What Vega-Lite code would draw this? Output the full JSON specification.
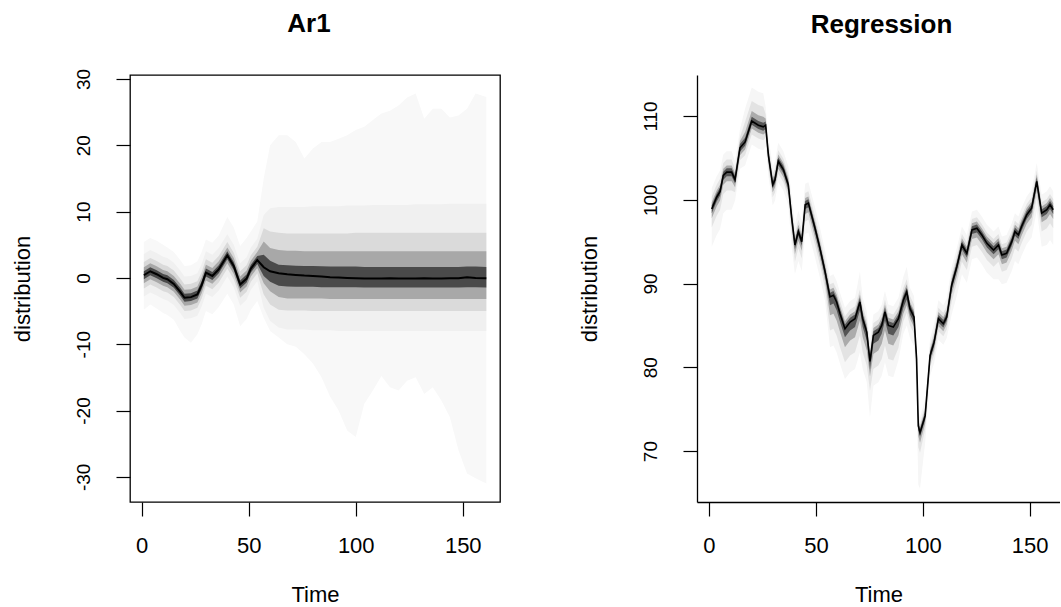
{
"$schema":"https://vega.github.io/schema/vega-lite/v6.json",
"background":"white",
"padding":{"left":10,"top":10,"right":0,"bottom":0},
"bounds":"flush",
"spacing":197,
"config":{
 "font":"Liberation Sans",
 "axis":{"domain":false,"grid":false,"tickColor":"black","tickSize":14,"tickWidth":1.2,"labelFont":"Liberation Sans","labelColor":"black","titleFont":"Liberation Sans","titleFontSize":22,"titleFontWeight":"normal","titleColor":"black","labelFlush":false,"labelOverlap":false,"labelExpr":"replace(datum.label, '\u2212', '-')"},
 "axisX":{"labelFontSize":22,"labelBaseline":"alphabetic","labelPadding":36,"titleBaseline":"alphabetic","titleY":99},
 "axisY":{"labelFontSize":19,"labelAngle":-90,"labelAlign":"center","labelBaseline":"alphabetic","labelPadding":27,"titleAngle":-90,"titleBaseline":"alphabetic","titleX":-101},
 "title":{"font":"Liberation Sans","fontSize":26,"fontWeight":"bold","color":"black","baseline":"alphabetic","offset":37,"frame":"group","anchor":"middle"}
},
"datasets":{
"ar1":[
{"t":1,"m":0.4,"l1":-4.8,"h1":5.4,"l2":-2.8,"h2":3.6,"l3":-1.6,"h3":2.4,"l4":-0.8,"h4":1.6,"l5":-0.2,"h5":1.0},
{"t":4,"m":1.0,"l1":-4.0,"h1":6.0,"l2":-2.2,"h2":4.2,"l3":-1.0,"h3":3.0,"l4":-0.2,"h4":2.2,"l5":0.4,"h5":1.6},
{"t":7,"m":0.55,"l1":-4.6,"h1":5.6,"l2":-2.65,"h2":3.75,"l3":-1.45,"h3":2.55,"l4":-0.65,"h4":1.75,"l5":-0.05,"h5":1.15},
{"t":10,"m":0.0,"l1":-5.3,"h1":5.0,"l2":-3.2,"h2":3.2,"l3":-2.0,"h3":2.0,"l4":-1.2,"h4":1.2,"l5":-0.6,"h5":0.6},
{"t":12,"m":-0.2,"l1":-5.6,"h1":4.6,"l2":-3.4,"h2":3.0,"l3":-2.2,"h3":1.8,"l4":-1.4,"h4":1.0,"l5":-0.8,"h5":0.4},
{"t":15,"m":-0.9,"l1":-6.3,"h1":3.9,"l2":-4.1,"h2":2.3,"l3":-2.9,"h3":1.1,"l4":-2.1,"h4":0.3,"l5":-1.5,"h5":-0.3},
{"t":18,"m":-2.1,"l1":-8.0,"h1":2.7,"l2":-5.3,"h2":1.1,"l3":-4.1,"h3":-0.1,"l4":-3.3,"h4":-0.9,"l5":-2.7,"h5":-1.5},
{"t":20,"m":-3.0,"l1":-9.0,"h1":1.8,"l2":-6.2,"h2":0.2,"l3":-5.0,"h3":-1.0,"l4":-4.2,"h4":-1.8,"l5":-3.6,"h5":-2.4},
{"t":23,"m":-2.9,"l1":-9.8,"h1":1.9,"l2":-6.1,"h2":0.3,"l3":-4.9,"h3":-0.9,"l4":-4.1,"h4":-1.7,"l5":-3.5,"h5":-2.3},
{"t":26,"m":-2.5,"l1":-8.5,"h1":2.5,"l2":-5.7,"h2":0.7,"l3":-4.5,"h3":-0.5,"l4":-3.7,"h4":-1.3,"l5":-3.1,"h5":-1.9},
{"t":28,"m":-1.1,"l1":-7.0,"h1":3.9,"l2":-4.3,"h2":2.1,"l3":-3.1,"h3":0.9,"l4":-2.3,"h4":0.1,"l5":-1.7,"h5":-0.5},
{"t":30,"m":0.8,"l1":-5.0,"h1":5.8,"l2":-2.4,"h2":4.0,"l3":-1.2,"h3":2.8,"l4":-0.4,"h4":2.0,"l5":0.2,"h5":1.4},
{"t":33,"m":0.3,"l1":-5.5,"h1":5.3,"l2":-2.9,"h2":3.5,"l3":-1.7,"h3":2.3,"l4":-0.9,"h4":1.5,"l5":-0.3,"h5":0.9},
{"t":36,"m":1.3,"l1":-4.4,"h1":6.4,"l2":-1.9,"h2":4.5,"l3":-0.7,"h3":3.3,"l4":0.1,"h4":2.5,"l5":0.7,"h5":1.9},
{"t":40,"m":3.4,"l1":-2.4,"h1":9.2,"l2":0.2,"h2":6.6,"l3":1.4,"h3":5.4,"l4":2.2,"h4":4.6,"l5":2.8,"h5":4.0},
{"t":43,"m":1.8,"l1":-4.0,"h1":7.6,"l2":-1.4,"h2":5.0,"l3":-0.2,"h3":3.8,"l4":0.6,"h4":3.0,"l5":1.2,"h5":2.4},
{"t":46,"m":-1.0,"l1":-7.3,"h1":4.8,"l2":-4.2,"h2":2.2,"l3":-3.0,"h3":1.0,"l4":-2.2,"h4":0.2,"l5":-1.6,"h5":-0.4},
{"t":49,"m":-0.1,"l1":-6.2,"h1":6.0,"l2":-3.3,"h2":3.1,"l3":-2.1,"h3":1.9,"l4":-1.3,"h4":1.1,"l5":-0.7,"h5":0.5},
{"t":51,"m":1.4,"l1":-4.8,"h1":7.0,"l2":-1.8,"h2":4.6,"l3":-0.6,"h3":3.4,"l4":0.2,"h4":2.6,"l5":0.8,"h5":2.0},
{"t":54,"m":2.7,"l1":-3.5,"h1":8.5,"l2":-0.5,"h2":5.9,"l3":0.7,"h3":4.7,"l4":1.5,"h4":3.9,"l5":2.1,"h5":3.3},
{"t":57,"m":1.6,"l1":-6.0,"h1":15.0,"l2":-4.5,"h2":9.5,"l3":-2.5,"h3":7.5,"l4":-0.8,"h4":5.5,"l5":0.3,"h5":3.5},
{"t":60,"m":1.0,"l1":-8.0,"h1":20.0,"l2":-6.5,"h2":10.5,"l3":-4.0,"h3":7.0,"l4":-2.0,"h4":4.5,"l5":-0.6,"h5":2.6},
{"t":64,"m":0.7,"l1":-9.0,"h1":21.5,"l2":-7.5,"h2":10.7,"l3":-4.8,"h3":6.8,"l4":-2.9,"h4":4.2,"l5":-1.2,"h5":2.0},
{"t":68,"m":0.55,"l1":-10.0,"h1":21.5,"l2":-7.8,"h2":10.7,"l3":-4.9,"h3":6.7,"l4":-3.1,"h4":4.1,"l5":-1.3,"h5":1.9},
{"t":72,"m":0.45,"l1":-10.4,"h1":20.5,"l2":-7.8,"h2":10.7,"l3":-4.9,"h3":6.7,"l4":-3.1,"h4":4.1,"l5":-1.35,"h5":1.85},
{"t":76,"m":0.35,"l1":-11.5,"h1":18.0,"l2":-7.8,"h2":10.7,"l3":-4.9,"h3":6.7,"l4":-3.1,"h4":4.0,"l5":-1.35,"h5":1.8},
{"t":80,"m":0.3,"l1":-12.9,"h1":19.5,"l2":-7.9,"h2":10.8,"l3":-5.0,"h3":6.7,"l4":-3.1,"h4":4.0,"l5":-1.35,"h5":1.8},
{"t":84,"m":0.2,"l1":-15.0,"h1":20.5,"l2":-7.9,"h2":10.8,"l3":-5.0,"h3":6.7,"l4":-3.1,"h4":4.0,"l5":-1.4,"h5":1.75},
{"t":88,"m":0.1,"l1":-17.9,"h1":20.5,"l2":-7.9,"h2":10.8,"l3":-5.0,"h3":6.7,"l4":-3.2,"h4":4.0,"l5":-1.4,"h5":1.7},
{"t":92,"m":0.05,"l1":-20.0,"h1":21.0,"l2":-8.0,"h2":10.8,"l3":-5.0,"h3":6.7,"l4":-3.2,"h4":4.0,"l5":-1.4,"h5":1.7},
{"t":96,"m":0.0,"l1":-23.0,"h1":21.5,"l2":-8.0,"h2":10.9,"l3":-5.0,"h3":6.7,"l4":-3.2,"h4":4.0,"l5":-1.4,"h5":1.7},
{"t":100,"m":-0.05,"l1":-24.0,"h1":22.3,"l2":-8.0,"h2":10.9,"l3":-5.0,"h3":6.8,"l4":-3.2,"h4":4.0,"l5":-1.4,"h5":1.7},
{"t":104,"m":-0.1,"l1":-19.0,"h1":22.8,"l2":-8.0,"h2":10.9,"l3":-5.0,"h3":6.8,"l4":-3.2,"h4":4.0,"l5":-1.45,"h5":1.65},
{"t":108,"m":-0.1,"l1":-17.0,"h1":23.8,"l2":-8.0,"h2":11.0,"l3":-5.0,"h3":6.8,"l4":-3.2,"h4":4.0,"l5":-1.45,"h5":1.65},
{"t":112,"m":-0.1,"l1":-14.8,"h1":24.8,"l2":-8.0,"h2":11.0,"l3":-5.0,"h3":6.8,"l4":-3.2,"h4":4.0,"l5":-1.45,"h5":1.65},
{"t":116,"m":-0.05,"l1":-16.5,"h1":25.2,"l2":-8.0,"h2":11.0,"l3":-5.0,"h3":6.8,"l4":-3.2,"h4":4.0,"l5":-1.45,"h5":1.65},
{"t":120,"m":-0.1,"l1":-17.0,"h1":26.0,"l2":-8.0,"h2":11.0,"l3":-5.0,"h3":6.8,"l4":-3.2,"h4":4.0,"l5":-1.45,"h5":1.65},
{"t":124,"m":-0.1,"l1":-15.5,"h1":27.2,"l2":-8.0,"h2":11.0,"l3":-5.0,"h3":6.8,"l4":-3.2,"h4":4.0,"l5":-1.45,"h5":1.65},
{"t":128,"m":-0.1,"l1":-15.0,"h1":27.8,"l2":-8.0,"h2":11.1,"l3":-5.0,"h3":6.8,"l4":-3.2,"h4":4.0,"l5":-1.45,"h5":1.65},
{"t":132,"m":-0.05,"l1":-17.5,"h1":24.0,"l2":-8.0,"h2":11.1,"l3":-5.0,"h3":6.8,"l4":-3.2,"h4":4.0,"l5":-1.45,"h5":1.65},
{"t":136,"m":-0.1,"l1":-16.5,"h1":25.5,"l2":-8.0,"h2":11.1,"l3":-5.0,"h3":6.8,"l4":-3.2,"h4":4.0,"l5":-1.45,"h5":1.65},
{"t":140,"m":-0.1,"l1":-18.5,"h1":25.5,"l2":-8.0,"h2":11.1,"l3":-5.0,"h3":6.8,"l4":-3.2,"h4":4.0,"l5":-1.45,"h5":1.65},
{"t":144,"m":-0.05,"l1":-21.0,"h1":24.2,"l2":-8.0,"h2":11.2,"l3":-5.0,"h3":6.8,"l4":-3.2,"h4":4.0,"l5":-1.45,"h5":1.65},
{"t":148,"m":-0.05,"l1":-26.0,"h1":24.5,"l2":-8.0,"h2":11.2,"l3":-5.0,"h3":6.8,"l4":-3.2,"h4":4.0,"l5":-1.45,"h5":1.65},
{"t":152,"m":0.1,"l1":-29.5,"h1":25.5,"l2":-8.0,"h2":11.2,"l3":-5.0,"h3":6.8,"l4":-3.2,"h4":4.0,"l5":-1.4,"h5":1.7},
{"t":156,"m":0.0,"l1":-30.2,"h1":27.8,"l2":-8.0,"h2":11.2,"l3":-5.0,"h3":6.8,"l4":-3.2,"h4":4.0,"l5":-1.4,"h5":1.7},
{"t":161,"m":-0.05,"l1":-31.0,"h1":27.3,"l2":-8.0,"h2":11.2,"l3":-5.0,"h3":6.8,"l4":-3.2,"h4":4.0,"l5":-1.45,"h5":1.65}
],
"reg":[
{"t":1.3,"m":98.9,"l1":94.4,"h1":101.4,"l2":96.7,"h2":100.4,"l3":97.8,"h3":99.7,"l4":98.4,"h4":99.35},
{"t":3.6,"m":100.3,"l1":95.8,"h1":102.8,"l2":98.1,"h2":101.8,"l3":99.2,"h3":101.1,"l4":99.8,"h4":100.75},
{"t":5.2,"m":101.0,"l1":96.5,"h1":103.5,"l2":98.8,"h2":102.5,"l3":99.9,"h3":101.8,"l4":100.5,"h4":101.45},
{"t":6.7,"m":102.9,"l1":98.4,"h1":105.4,"l2":100.7,"h2":104.4,"l3":101.8,"h3":103.7,"l4":102.4,"h4":103.35},
{"t":8.3,"m":103.3,"l1":98.8,"h1":105.8,"l2":101.1,"h2":104.8,"l3":102.2,"h3":104.1,"l4":102.8,"h4":103.75},
{"t":10.6,"m":103.3,"l1":98.8,"h1":105.8,"l2":101.1,"h2":104.8,"l3":102.2,"h3":104.1,"l4":102.8,"h4":103.75},
{"t":12.2,"m":102.4,"l1":99.9,"h1":104.6,"l2":100.9,"h2":103.7,"l3":101.5,"h3":103.2,"l4":101.95,"h4":102.85},
{"t":14.5,"m":106.2,"l1":103.7,"h1":108.4,"l2":104.7,"h2":107.5,"l3":105.3,"h3":107.0,"l4":105.75,"h4":106.65},
{"t":16.9,"m":106.9,"l1":104.1,"h1":110.9,"l2":105.3,"h2":109.3,"l3":106.0,"h3":108.1,"l4":106.45,"h4":107.4},
{"t":20,"m":109.4,"l1":106.6,"h1":113.4,"l2":107.8,"h2":111.8,"l3":108.5,"h3":110.6,"l4":108.95,"h4":109.9},
{"t":23.1,"m":108.9,"l1":106.1,"h1":112.9,"l2":107.3,"h2":111.3,"l3":108.0,"h3":110.1,"l4":108.45,"h4":109.4},
{"t":25.4,"m":108.7,"l1":105.9,"h1":112.7,"l2":107.1,"h2":111.1,"l3":107.8,"h3":109.9,"l4":108.25,"h4":109.2},
{"t":26.5,"m":108.9,"l1":106.4,"h1":111.1,"l2":107.4,"h2":110.2,"l3":108.0,"h3":109.7,"l4":108.45,"h4":109.35},
{"t":27.8,"m":105.3,"l1":102.8,"h1":107.5,"l2":103.8,"h2":106.6,"l3":104.4,"h3":106.1,"l4":104.85,"h4":105.75},
{"t":29.8,"m":101.8,"l1":99.3,"h1":104.0,"l2":100.3,"h2":103.1,"l3":100.9,"h3":102.6,"l4":101.35,"h4":102.25},
{"t":30.9,"m":102.4,"l1":99.9,"h1":104.6,"l2":100.9,"h2":103.7,"l3":101.5,"h3":103.2,"l4":101.95,"h4":102.85},
{"t":32.4,"m":104.6,"l1":102.1,"h1":106.8,"l2":103.1,"h2":105.9,"l3":103.7,"h3":105.4,"l4":104.15,"h4":105.05},
{"t":34.8,"m":103.6,"l1":101.1,"h1":105.8,"l2":102.1,"h2":104.9,"l3":102.7,"h3":104.4,"l4":103.15,"h4":104.05},
{"t":37.1,"m":101.8,"l1":99.3,"h1":104.0,"l2":100.3,"h2":103.1,"l3":100.9,"h3":102.6,"l4":101.35,"h4":102.25},
{"t":38.7,"m":97.8,"l1":94.3,"h1":100.3,"l2":95.8,"h2":99.2,"l3":96.7,"h3":98.6,"l4":97.3,"h4":98.25},
{"t":40.2,"m":94.6,"l1":91.1,"h1":97.1,"l2":92.6,"h2":96.0,"l3":93.5,"h3":95.4,"l4":94.1,"h4":95.05},
{"t":41.8,"m":96.2,"l1":92.7,"h1":98.7,"l2":94.2,"h2":97.6,"l3":95.1,"h3":97.0,"l4":95.7,"h4":96.65},
{"t":43.4,"m":95.0,"l1":91.5,"h1":97.5,"l2":93.0,"h2":96.4,"l3":93.9,"h3":95.8,"l4":94.5,"h4":95.45},
{"t":45,"m":99.4,"l1":95.9,"h1":101.9,"l2":97.4,"h2":100.8,"l3":98.3,"h3":100.2,"l4":98.9,"h4":99.85},
{"t":46.5,"m":99.6,"l1":96.1,"h1":102.1,"l2":97.6,"h2":101.0,"l3":98.5,"h3":100.4,"l4":99.1,"h4":100.05},
{"t":49.6,"m":96.6,"l1":93.1,"h1":99.1,"l2":94.6,"h2":98.0,"l3":95.5,"h3":97.4,"l4":96.1,"h4":97.05},
{"t":51.9,"m":94.2,"l1":90.7,"h1":96.7,"l2":92.2,"h2":95.6,"l3":93.1,"h3":95.0,"l4":93.7,"h4":94.65},
{"t":54.3,"m":91.4,"l1":87.9,"h1":93.9,"l2":89.4,"h2":92.8,"l3":90.3,"h3":92.2,"l4":90.9,"h4":91.85},
{"t":56.6,"m":88.4,"l1":82.4,"h1":90.9,"l2":84.4,"h2":89.9,"l3":86.2,"h3":89.3,"l4":87.4,"h4":88.9},
{"t":58.2,"m":88.6,"l1":82.6,"h1":91.1,"l2":84.6,"h2":90.1,"l3":86.4,"h3":89.5,"l4":87.6,"h4":89.1},
{"t":59.7,"m":87.8,"l1":81.8,"h1":90.3,"l2":83.8,"h2":89.3,"l3":85.6,"h3":88.7,"l4":86.8,"h4":88.3},
{"t":61.3,"m":86.4,"l1":80.4,"h1":88.9,"l2":82.4,"h2":87.9,"l3":84.2,"h3":87.3,"l4":85.4,"h4":86.9},
{"t":63.6,"m":84.6,"l1":78.6,"h1":87.1,"l2":80.6,"h2":86.1,"l3":82.4,"h3":85.5,"l4":83.6,"h4":85.1},
{"t":66,"m":85.4,"l1":79.4,"h1":87.9,"l2":81.4,"h2":86.9,"l3":83.2,"h3":86.3,"l4":84.4,"h4":85.9},
{"t":68.3,"m":85.8,"l1":79.8,"h1":88.3,"l2":81.8,"h2":87.3,"l3":83.6,"h3":86.7,"l4":84.8,"h4":86.3},
{"t":70.6,"m":87.8,"l1":81.8,"h1":91.4,"l2":83.8,"h2":89.3,"l3":85.6,"h3":88.7,"l4":86.8,"h4":88.3},
{"t":71.9,"m":85.8,"l1":79.8,"h1":88.3,"l2":81.8,"h2":87.3,"l3":83.6,"h3":86.7,"l4":84.8,"h4":86.3},
{"t":73.8,"m":84.2,"l1":78.2,"h1":86.7,"l2":80.2,"h2":85.7,"l3":82.0,"h3":85.1,"l4":83.2,"h4":84.7},
{"t":75.3,"m":80.7,"l1":74.0,"h1":83.2,"l2":77.2,"h2":82.2,"l3":78.9,"h3":81.6,"l4":79.7,"h4":81.2},
{"t":76.9,"m":83.8,"l1":77.8,"h1":86.3,"l2":79.8,"h2":85.3,"l3":81.6,"h3":84.7,"l4":82.8,"h4":84.3},
{"t":79.2,"m":84.2,"l1":78.2,"h1":86.7,"l2":80.2,"h2":85.7,"l3":82.0,"h3":85.1,"l4":83.2,"h4":84.7},
{"t":80.8,"m":85.0,"l1":79.0,"h1":87.5,"l2":81.0,"h2":86.5,"l3":82.8,"h3":85.9,"l4":84.0,"h4":85.5},
{"t":82.3,"m":86.6,"l1":80.6,"h1":89.1,"l2":82.6,"h2":88.1,"l3":84.4,"h3":87.5,"l4":85.6,"h4":87.1},
{"t":83.9,"m":85.0,"l1":79.0,"h1":87.5,"l2":81.0,"h2":86.5,"l3":82.8,"h3":85.9,"l4":84.0,"h4":85.5},
{"t":86.2,"m":84.8,"l1":78.8,"h1":87.3,"l2":80.8,"h2":86.3,"l3":82.6,"h3":85.7,"l4":83.8,"h4":85.3},
{"t":88.6,"m":85.8,"l1":80.8,"h1":88.3,"l2":82.3,"h2":87.3,"l3":83.8,"h3":86.7,"l4":84.8,"h4":86.3},
{"t":90.9,"m":88.0,"l1":84.0,"h1":90.8,"l2":85.5,"h2":89.5,"l3":86.4,"h3":88.9,"l4":87.1,"h4":88.5},
{"t":92.5,"m":89.0,"l1":85.0,"h1":92.0,"l2":86.5,"h2":90.5,"l3":87.4,"h3":89.9,"l4":88.1,"h4":89.5},
{"t":94.0,"m":87.0,"l1":83.5,"h1":89.5,"l2":85.0,"h2":88.5,"l3":85.8,"h3":87.8,"l4":86.3,"h4":87.5},
{"t":95.9,"m":86.0,"l1":82.5,"h1":88.5,"l2":84.0,"h2":87.5,"l3":84.8,"h3":86.8,"l4":85.3,"h4":86.5},
{"t":97.1,"m":81.0,"l1":76.0,"h1":83.0,"l2":78.5,"h2":82.0,"l3":79.8,"h3":81.7,"l4":80.5,"h4":81.4},
{"t":97.9,"m":73.0,"l1":66.0,"h1":75.0,"l2":70.5,"h2":74.2,"l3":71.8,"h3":73.7,"l4":72.5,"h4":73.4},
{"t":98.7,"m":72.2,"l1":65.5,"h1":74.0,"l2":69.8,"h2":73.3,"l3":71.0,"h3":72.9,"l4":71.7,"h4":72.6},
{"t":101.1,"m":74.2,"l1":71.0,"h1":76.2,"l2":72.6,"h2":75.4,"l3":73.3,"h3":74.9,"l4":73.75,"h4":74.6},
{"t":103.4,"m":81.4,"l1":79.0,"h1":83.4,"l2":80.0,"h2":82.6,"l3":80.6,"h3":82.1,"l4":80.95,"h4":81.85},
{"t":105.3,"m":83.0,"l1":80.5,"h1":85.2,"l2":81.5,"h2":84.3,"l3":82.1,"h3":83.8,"l4":82.55,"h4":83.45},
{"t":107.3,"m":85.8,"l1":83.3,"h1":88.0,"l2":84.3,"h2":87.1,"l3":84.9,"h3":86.6,"l4":85.35,"h4":86.25},
{"t":109.6,"m":85.2,"l1":82.7,"h1":87.4,"l2":83.7,"h2":86.5,"l3":84.3,"h3":86.0,"l4":84.75,"h4":85.65},
{"t":111.2,"m":86.0,"l1":83.5,"h1":88.2,"l2":84.5,"h2":87.3,"l3":85.1,"h3":86.8,"l4":85.55,"h4":86.45},
{"t":113.5,"m":89.8,"l1":86.3,"h1":92.0,"l2":87.8,"h2":91.1,"l3":88.7,"h3":90.6,"l4":89.3,"h4":90.25},
{"t":115.9,"m":92.0,"l1":88.5,"h1":94.2,"l2":90.0,"h2":93.3,"l3":90.9,"h3":92.8,"l4":91.5,"h4":92.45},
{"t":118.3,"m":94.6,"l1":91.1,"h1":96.8,"l2":92.6,"h2":95.9,"l3":93.5,"h3":95.4,"l4":94.1,"h4":95.05},
{"t":120.6,"m":93.6,"l1":90.1,"h1":95.8,"l2":91.6,"h2":94.9,"l3":92.5,"h3":94.4,"l4":93.1,"h4":94.05},
{"t":123,"m":96.4,"l1":92.9,"h1":98.6,"l2":94.4,"h2":97.7,"l3":95.3,"h3":97.2,"l4":95.9,"h4":96.85},
{"t":125.3,"m":96.6,"l1":93.1,"h1":98.8,"l2":94.6,"h2":97.9,"l3":95.5,"h3":97.4,"l4":96.1,"h4":97.05},
{"t":127.6,"m":95.8,"l1":92.3,"h1":98.0,"l2":93.8,"h2":97.1,"l3":94.7,"h3":96.6,"l4":95.3,"h4":96.25},
{"t":130,"m":94.8,"l1":91.3,"h1":97.0,"l2":92.8,"h2":96.1,"l3":93.7,"h3":95.6,"l4":94.3,"h4":95.25},
{"t":133.1,"m":94.0,"l1":90.5,"h1":96.2,"l2":92.0,"h2":95.3,"l3":92.9,"h3":94.8,"l4":93.5,"h4":94.45},
{"t":135.4,"m":94.6,"l1":90.5,"h1":96.8,"l2":92.6,"h2":95.9,"l3":93.5,"h3":95.4,"l4":94.1,"h4":95.05},
{"t":137,"m":93.4,"l1":89.9,"h1":95.6,"l2":91.4,"h2":94.7,"l3":92.3,"h3":94.2,"l4":92.9,"h4":93.85},
{"t":139.2,"m":93.6,"l1":90.1,"h1":95.8,"l2":91.6,"h2":94.9,"l3":92.5,"h3":94.4,"l4":93.1,"h4":94.05},
{"t":141.6,"m":95.0,"l1":91.5,"h1":97.2,"l2":93.0,"h2":96.3,"l3":93.9,"h3":95.8,"l4":94.5,"h4":95.45},
{"t":143.1,"m":96.2,"l1":92.7,"h1":98.4,"l2":94.2,"h2":97.5,"l3":95.1,"h3":97.0,"l4":95.7,"h4":96.65},
{"t":144.7,"m":95.8,"l1":92.3,"h1":98.0,"l2":93.8,"h2":97.1,"l3":94.7,"h3":96.6,"l4":95.3,"h4":96.25},
{"t":146.2,"m":96.8,"l1":93.3,"h1":99.0,"l2":94.8,"h2":98.1,"l3":95.7,"h3":97.6,"l4":96.3,"h4":97.25},
{"t":148.6,"m":98.2,"l1":94.7,"h1":100.4,"l2":96.2,"h2":99.5,"l3":97.1,"h3":99.0,"l4":97.7,"h4":98.65},
{"t":150.9,"m":99.0,"l1":95.5,"h1":101.2,"l2":97.0,"h2":100.3,"l3":97.9,"h3":99.8,"l4":98.5,"h4":99.45},
{"t":153.3,"m":102.2,"l1":98.7,"h1":104.4,"l2":100.2,"h2":103.5,"l3":101.1,"h3":103.0,"l4":101.7,"h4":102.65},
{"t":155.6,"m":98.4,"l1":94.4,"h1":100.6,"l2":96.2,"h2":99.7,"l3":97.3,"h3":99.2,"l4":97.9,"h4":98.85},
{"t":158,"m":98.8,"l1":94.6,"h1":101.0,"l2":96.6,"h2":100.1,"l3":97.7,"h3":99.6,"l4":98.3,"h4":99.25},
{"t":159.5,"m":99.4,"l1":95.2,"h1":101.6,"l2":97.2,"h2":100.7,"l3":98.3,"h3":100.2,"l4":98.9,"h4":99.85},
{"t":161,"m":98.8,"l1":94.6,"h1":101.0,"l2":96.6,"h2":100.1,"l3":97.7,"h3":99.6,"l4":98.3,"h4":99.25}
]
},
"hconcat":[
{
 "width":370,"height":427,
 "data":{"name":"ar1"},
 "title":{"text":"Ar1","dx":-6,"offset":31},
 "view":{"stroke":"black","strokeWidth":1.3},
 "encoding":{"x":{"field":"t","type":"quantitative","title":"Time","scale":{"domain":[-5.47,167.4],"nice":false,"zero":false},"axis":{"values":[0,50,100,150]}}},
 "layer":[
  {"mark":{"type":"area","color":"#f8f8f8"},"encoding":{"y":{"field":"l1","type":"quantitative","title":"distribution","scale":{"domain":[-33.8,30.6],"nice":false,"zero":false},"axis":{"values":[-30,-20,-10,0,10,20,30]}},"y2":{"field":"h1"}}},
  {"mark":{"type":"area","color":"#f0f0f0"},"encoding":{"y":{"field":"l2","type":"quantitative","title":"distribution","scale":{"domain":[-33.8,30.6],"nice":false,"zero":false},"axis":{"values":[-30,-20,-10,0,10,20,30]}},"y2":{"field":"h2"}}},
  {"mark":{"type":"area","color":"#dadada"},"encoding":{"y":{"field":"l3","type":"quantitative","title":"distribution","scale":{"domain":[-33.8,30.6],"nice":false,"zero":false},"axis":{"values":[-30,-20,-10,0,10,20,30]}},"y2":{"field":"h3"}}},
  {"mark":{"type":"area","color":"#a8a8a8"},"encoding":{"y":{"field":"l4","type":"quantitative","title":"distribution","scale":{"domain":[-33.8,30.6],"nice":false,"zero":false},"axis":{"values":[-30,-20,-10,0,10,20,30]}},"y2":{"field":"h4"}}},
  {"mark":{"type":"area","color":"#4a4a4a"},"encoding":{"y":{"field":"l5","type":"quantitative","title":"distribution","scale":{"domain":[-33.8,30.6],"nice":false,"zero":false},"axis":{"values":[-30,-20,-10,0,10,20,30]}},"y2":{"field":"h5"}}},
  {"mark":{"type":"line","color":"black","strokeWidth":2},"encoding":{"y":{"field":"m","type":"quantitative","title":"distribution","scale":{"domain":[-33.8,30.6],"nice":false,"zero":false},"axis":{"values":[-30,-20,-10,0,10,20,30]}}}}
 ]
},
{
 "width":363,"height":427,
 "data":{"name":"reg"},
 "title":{"text":"Regression","dx":3},
 "view":{"stroke":null},
 "encoding":{"x":{"field":"t","type":"quantitative","title":"Time","scale":{"domain":[-5.6,164.17],"nice":false,"zero":false},"axis":{"values":[0,50,100,150],"domain":true,"domainColor":"black","domainWidth":1.3}}},
 "layer":[
  {"mark":{"type":"area","color":"#f6f6f6"},"encoding":{"y":{"field":"l1","type":"quantitative","title":"distribution","scale":{"domain":[63.92,114.89],"nice":false,"zero":false},"axis":{"values":[70,80,90,100,110],"domain":true,"domainColor":"black","domainWidth":1.3}},"y2":{"field":"h1"}}},
  {"mark":{"type":"area","color":"#e3e3e3"},"encoding":{"y":{"field":"l2","type":"quantitative","title":"distribution","scale":{"domain":[63.92,114.89],"nice":false,"zero":false},"axis":{"values":[70,80,90,100,110],"domain":true,"domainColor":"black","domainWidth":1.3}},"y2":{"field":"h2"}}},
  {"mark":{"type":"area","color":"#ababab"},"encoding":{"y":{"field":"l3","type":"quantitative","title":"distribution","scale":{"domain":[63.92,114.89],"nice":false,"zero":false},"axis":{"values":[70,80,90,100,110],"domain":true,"domainColor":"black","domainWidth":1.3}},"y2":{"field":"h3"}}},
  {"mark":{"type":"area","color":"#555555"},"encoding":{"y":{"field":"l4","type":"quantitative","title":"distribution","scale":{"domain":[63.92,114.89],"nice":false,"zero":false},"axis":{"values":[70,80,90,100,110],"domain":true,"domainColor":"black","domainWidth":1.3}},"y2":{"field":"h4"}}},
  {"mark":{"type":"line","color":"black","strokeWidth":1.6},"encoding":{"y":{"field":"m","type":"quantitative","title":"distribution","scale":{"domain":[63.92,114.89],"nice":false,"zero":false},"axis":{"values":[70,80,90,100,110],"domain":true,"domainColor":"black","domainWidth":1.3}}}},
  {"data":{"values":[{"v":114.89}]},"mark":{"type":"rule","color":"black","strokeWidth":1.3},"encoding":{"y":{"field":"v","type":"quantitative","title":"distribution","scale":{"domain":[63.92,114.89],"nice":false,"zero":false},"axis":{"values":[70,80,90,100,110],"domain":true,"domainColor":"black","domainWidth":1.3}}}}
 ]
}
]
}
